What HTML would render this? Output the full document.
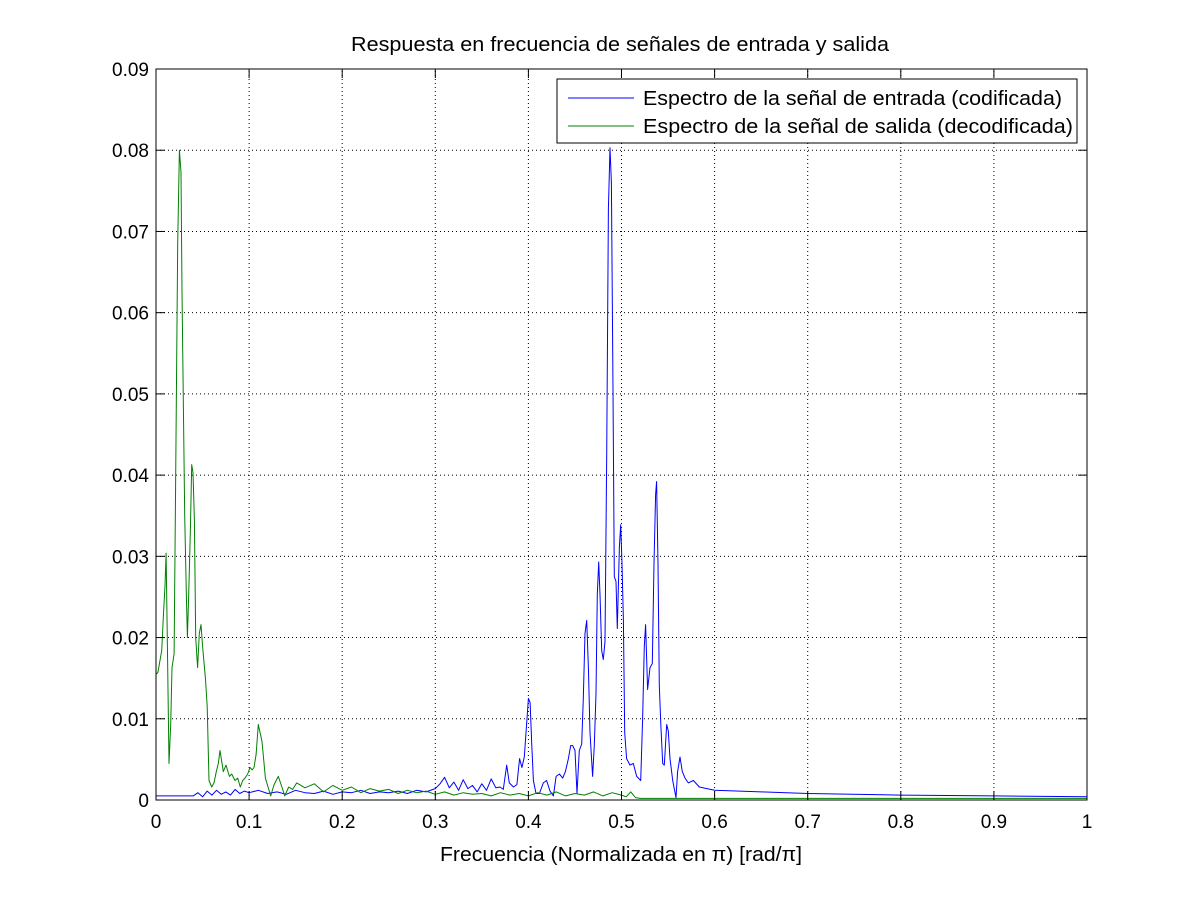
<!DOCTYPE html>
<html><head><meta charset="utf-8"><style>
body{margin:0;background:#fff;font-family:"Liberation Sans",sans-serif}
svg{display:block}
</style></head><body>
<svg id="chart" width="1200" height="900" xmlns="http://www.w3.org/2000/svg" font-family="Liberation Sans, sans-serif">
<rect width="1200" height="900" fill="#fff"/>
<g id="grid"></g>
<g id="series"></g>
<rect x="156" y="69" width="931" height="731" fill="none" stroke="#000" stroke-width="1"/>
<g id="ticks"></g>
<text x="351" y="51" font-size="20" textLength="538" lengthAdjust="spacingAndGlyphs">Respuesta en frecuencia de señales de entrada y salida</text>
<text x="440" y="861" font-size="20" textLength="362" lengthAdjust="spacingAndGlyphs">Frecuencia (Normalizada en π) [rad/π]</text>
<g>
<rect x="557" y="79" width="520" height="64" fill="#fff" stroke="#000"/>
<line x1="568" y1="98" x2="634" y2="98" stroke="#0000ff"/>
<text x="643" y="105" font-size="20" textLength="419" lengthAdjust="spacingAndGlyphs">Espectro de la señal de entrada (codificada)</text>
<line x1="568" y1="126" x2="634" y2="126" stroke="#008000"/>
<text x="643" y="133" font-size="20" textLength="430" lengthAdjust="spacingAndGlyphs">Espectro de la señal de salida (decodificada)</text>
</g>
</svg>
<script>
const xTicks=[0,0.1,0.2,0.3,0.4,0.5,0.6,0.7,0.8,0.9,1];
const xTickLabels=["0","0.1","0.2","0.3","0.4","0.5","0.6","0.7","0.8","0.9","1"];
const yTicks=[0,0.01,0.02,0.03,0.04,0.05,0.06,0.07,0.08,0.09];
const yTickLabels=["0","0.01","0.02","0.03","0.04","0.05","0.06","0.07","0.08","0.09"];
const inputFreq=[0,0.02,0.04,0.045,0.05,0.055,0.06,0.065,0.07,0.075,0.08,0.085,0.09,0.095,0.1,0.11,0.12,0.13,0.14,0.15,0.16,0.17,0.18,0.19,0.2,0.21,0.22,0.23,0.24,0.25,0.26,0.27,0.28,0.29,0.3,0.305,0.31,0.315,0.32,0.325,0.33,0.335,0.34,0.345,0.35,0.355,0.36,0.365,
0.3695,0.373,0.3767,0.3795,0.384,0.3877,0.3905,0.393,0.3956,0.3977,0.4,0.4018,0.4036,0.4054,0.4082,0.4118,0.416,0.4196,0.4232,0.4268,0.4297,0.4333,0.4368,0.4397,0.443,0.4454,0.4476,0.45,0.4522,0.4547,0.4572,0.459,0.4608,0.4626,0.4644,0.4662,0.469,0.4708,0.4726,0.474,0.4755,0.4769,0.4787,0.4805,0.4823,0.4841,0.4859,0.4877,0.4891,0.4909,0.4923,0.4941,0.4955,0.4977,0.4991,0.5005,0.502,0.5034,0.5055,0.5091,0.5127,0.5163,0.5206,0.5227,0.5245,0.5259,0.528,0.5306,0.5331,0.5349,0.5366,0.5377,0.5392,0.5406,0.5424,0.5442,0.546,0.5485,0.5503,0.5521,0.555,0.5585,0.5603,0.5628,0.5653,0.5682,0.5718,0.5772,0.5836,0.6,0.65,0.7,0.8,0.9,1];
const inputVals=[0.0005,0.0005,0.0005,0.0009,0.0004,0.0011,0.0006,0.0012,0.0007,0.0010,0.0006,0.0013,0.0008,0.0011,0.0009,0.0012,0.0008,0.0010,0.0007,0.0012,0.0009,0.0008,0.0011,0.0007,0.0010,0.0009,0.0012,0.0008,0.0010,0.0009,0.0011,0.0008,0.0012,0.0010,0.0014,0.0020,0.0028,0.0015,0.0022,0.0012,0.0025,0.0014,0.0018,0.0010,0.0020,0.0012,0.0026,0.0015,
0.0016,0.0013,0.0043,0.0021,0.0016,0.0019,0.0051,0.004,0.0053,0.0088,0.0125,0.012,0.0067,0.0024,0.0008,0.0008,0.0021,0.0024,0.0011,0.0005,0.0029,0.0032,0.0027,0.0035,0.0051,0.0067,0.0067,0.0061,0.0008,0.0061,0.0069,0.0125,0.0205,0.0221,0.0163,0.0083,0.0029,0.0067,0.0131,0.0253,0.0293,0.0253,0.0184,0.0173,0.0195,0.0424,0.0728,0.0803,0.076,0.0504,0.0275,0.0269,0.0211,0.0312,0.0339,0.0291,0.0221,0.0083,0.0051,0.0043,0.0045,0.0029,0.0024,0.0099,0.0189,0.0216,0.0136,0.0163,0.0168,0.0291,0.0376,0.0392,0.0291,0.0141,0.0088,0.0045,0.0043,0.0093,0.0085,0.0051,0.0024,0.0003,0.0035,0.0053,0.0035,0.0027,0.0021,0.0024,0.0016,0.0012,0.0010,0.0008,0.0006,0.0005,0.0004];
const outputFreq=[0.0002,0.002,0.0061,0.0079,0.0097,0.0108,0.0122,0.014,0.0158,0.0172,0.0194,0.0211,0.0233,0.0251,0.0269,0.0279,0.0294,0.0308,0.0326,0.0337,0.0351,0.0369,0.0383,0.0397,0.0412,0.0426,0.0447,0.0465,0.0483,0.0501,0.0533,0.055,0.0569,0.0598,0.0623,0.0648,0.0669,0.0687,0.0723,0.0752,0.0788,0.0813,0.0849,0.0878,0.0906,0.0931,0.0956,0.0985,0.1009,0.1032,0.1053,0.1075,0.1099,0.1139,0.1175,0.1232,0.1268,0.1314,0.1361,0.1382,0.1425,0.1468,0.1511,0.16,0.17,0.18,0.19,0.2,0.21,0.22,0.23,0.24,0.25,0.26,0.27,0.28,0.29,0.3,0.31,0.32,0.33,0.34,0.35,0.36,0.37,0.38,0.39,0.4,0.41,0.42,0.43,0.44,0.45,0.46,0.47,0.48,0.49,0.5,0.505,0.51,0.515,0.52,0.6,0.8,1];
const outputVals=[0.0155,0.0157,0.0184,0.0227,0.0264,0.0304,0.019,0.0045,0.0093,0.0163,0.018,0.0387,0.0685,0.080,0.0773,0.0627,0.0483,0.035,0.025,0.020,0.0253,0.0333,0.0413,0.0403,0.0344,0.020,0.0163,0.0205,0.0216,0.0189,0.0147,0.0115,0.0024,0.0016,0.0021,0.0035,0.0045,0.0061,0.0035,0.0043,0.0029,0.0032,0.0024,0.0027,0.0016,0.0024,0.0027,0.0032,0.004,0.0037,0.004,0.0056,0.0093,0.0072,0.0027,0.0005,0.0019,0.0029,0.0013,0.0005,0.0016,0.0013,0.0021,0.0015,0.0020,0.0010,0.0018,0.0012,0.0016,0.0009,0.0014,0.0011,0.0013,0.0008,0.0012,0.0009,0.0011,0.0007,0.0010,0.0006,0.0009,0.0007,0.0008,0.0005,0.0009,0.0006,0.0008,0.0005,0.0009,0.0006,0.0010,0.0005,0.0008,0.0006,0.0010,0.0005,0.0009,0.0006,0.0004,0.0010,0.0003,0.0002,0.0002,0.0002,0.0002];

const NS='http://www.w3.org/2000/svg';
const X0=156,X1=1087,Y0=800,Y1=69;
const xs=v=>X0+(v-0)/(1-0)*(X1-X0);
const ys=v=>Y0-(v-0)/(0.09-0)*(Y0-Y1);
function mk(tag,attrs,parent){const e=document.createElementNS(NS,tag);for(const k in attrs)e.setAttribute(k,attrs[k]);parent.appendChild(e);return e;}
const grid=document.getElementById('grid'),ticks=document.getElementById('ticks'),series=document.getElementById('series');
xTicks.forEach((t,i)=>{const x=xs(t);
 if(i>0&&i<xTicks.length-1){const g=mk('line',{x1:x,y1:Y0,x2:x,y2:Y1,stroke:'#000','stroke-dasharray':'1,3','stroke-width':1},grid);
 
 }
 const tk=mk('line',{x1:x,y1:Y0,x2:x,y2:Y0-9,stroke:'#000'},ticks);
 
 
 const tk2=mk('line',{x1:x,y1:Y1,x2:x,y2:Y1+9,stroke:'#000'},ticks);
 
 
 const l=mk('text',{x:x,y:Y0+28,'font-size':19,'text-anchor':'middle'},ticks);l.textContent=xTickLabels[i];
 
 });
yTicks.forEach((t,i)=>{const y=ys(t);
 if(i>0&&i<yTicks.length-1){const g=mk('line',{x1:X0,y1:y,x2:X1,y2:y,stroke:'#000','stroke-dasharray':'1,3','stroke-width':1},grid);
 
 }
 const tk=mk('line',{x1:X0,y1:y,x2:X0+9,y2:y,stroke:'#000'},ticks);
 
 
 const tk2=mk('line',{x1:X1,y1:y,x2:X1-9,y2:y,stroke:'#000'},ticks);
 
 
 const l=mk('text',{x:X0-7,y:y+7,'font-size':19,'text-anchor':'end'},ticks);l.textContent=yTickLabels[i];
 
 });
function line(fr,vals,color,name){const d=fr.map((f,i)=>(i?'L':'M')+xs(f).toFixed(1)+','+ys(vals[i]).toFixed(1)).join('');
 const p=mk('path',{d:d,fill:'none',stroke:color,'stroke-width':1,'stroke-linejoin':'round'},series);
 
 }
line(inputFreq,inputVals,'#0000ff','input-spectrum-line');
line(outputFreq,outputVals,'#008000','output-spectrum-line');
</script>
</body></html>
